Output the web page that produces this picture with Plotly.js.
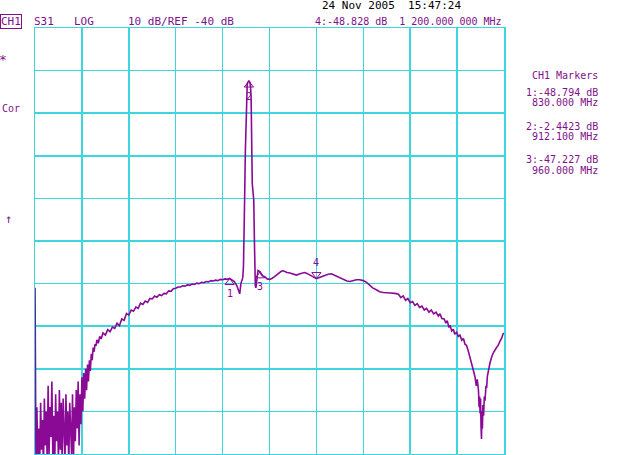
<!DOCTYPE html>
<html>
<head>
<meta charset="utf-8">
<script src="https://cdn.plot.ly/plotly-3.0.1.min.js"></script>
<style>html,body{margin:0;padding:0;background:#fff;}#chart{width:640px;height:455px;}</style>
</head>
<body>
<div id="chart"></div>
<script>
// ---- data (frequency in MHz, S31 magnitude in dB) ----
const segAFreq = [0.3,2,4,8,12,16,20,24,28,32,36,40,44,48,52,56,60,64,68,72,76,80,84,88,92,96,100,104,108,112,116,120,124,128,132,136,140,144,148,152,156,160,164,168,172,176,180,184,188,192,196,200,204,208,212,216,220,224,228,232,236,240,244,248,252,256,260];
const segADB = [-51,-62,-92,-79,-91,-84,-93,-78,-89,-82,
  -94,-77,-88,-80,-92,-74,-90,-79,-86,-73,
  -91,-81,-94,-76,-87,-80,-92,-75,-89,-78,
  -93,-77,-85,-91,-76,-88,-80,-93,-78,-86,
  -90,-76,-92,-79,-87,-75,-84,-73,-88,-76,
  -83,-72,-80,-71,-77,-70,-75,-69,-73,-68,
  -70.5,-66.5,-68,-65,-66,-64.2,-64.6];

const segBFreq = [264,270,276,282,290,300,310,320,330,340,350,360,370,380,390,400,410,420,430,440,450,460,470,480,490,500,510,520,530,540,550,560,570,580,590,600,610,620,630,640,650,660,670,680,690,700,710,720,730,740,750,760,770,780,790,800,810,820,830,840,850,860,866,873,878,882,886];
const segBDB = [-63.2,-64.0,-62.4,-63.0,-61.6,-62.1,-60.8,-61.3,-60.2,-60.5,
  -59.3,-59.9,-58.3,-58.6,-57.0,-57.4,-56.2,-56.5,-55.5,-55.8,
  -54.6,-54.9,-54.1,-54.4,-53.5,-53.6,-52.9,-53.2,-52.6,-52.8,
  -52.3,-52.4,-51.7,-51.8,-51.2,-51.1,-50.8,-50.8,-50.5,-50.6,
  -50.3,-50.4,-50.1,-50.2,-49.9,-50.0,-49.7,-49.8,-49.5,-49.6,
  -49.3,-49.4,-49.2,-49.3,-49.0,-49.1,-48.9,-49.0,-48.8,-49.1,
  -49.5,-50.4,-51.4,-52.4,-50.0,-49.3,-48.6];

const segCFreq = [889,891.5,894,897,900,902,905,908,912.1,916,919,921.5,923,924,926.5,930,933,935,937,939.5,942,944.5,947,951,955,960];
const segCDB = [-46,-40,-30,-19,-9.5,-5.5,-3.2,-2.7,-2.44,-2.7,
  -3.8,-6,-14,-23,-26.5,-28.7,-30.5,-38,-45,-50.5,
  -51,-49.9,-47.5,-46.9,-47.0,-47.2];

const segDFreq = [965,970,980,990,1000,1010,1020,1030,1040,1050,
  1058,1065,1075,1087,1100,1115,1130,1140,1150,1160,
  1172,1185,1195,1200,1210,1220,1229,1240,1250,1264,
  1275,1290,1300,1315,1330,1343,1355,1370,1385,1400,
  1414,1425,1440,1457,1470,1485,1499,1515,1535,1550,
  1560,1570,1580,1590,1600,1610,1620,1630,1640,1650,
  1660,1670,1680,1690,1700,1710,1720,1727,1735,1745,
  1752,1758,1765,1770,1777,1784,1790,1798,1805,1812,
  1820,1827,1834,1840,1848];
const segDDB = [-47.8,-48.2,-48.4,-48.9,-49.0,-48.8,-48.4,-47.9,-47.4,-47.1,
  -47.0,-47.2,-47.4,-47.5,-47.8,-48.0,-47.7,-47.5,-47.4,-47.6,
  -48.0,-48.4,-48.7,-48.83,-48.6,-48.4,-48.3,-48.0,-47.8,-47.7,
  -48.0,-48.5,-48.7,-49.1,-49.4,-49.5,-49.3,-49.1,-49.1,-49.3,
  -49.7,-50.3,-51.0,-51.5,-51.9,-52.1,-52.1,-52.2,-52.3,-52.5,
  -53.3,-52.9,-53.9,-53.5,-54.5,-54.2,-55.1,-54.7,-55.6,-55.3,
  -56.2,-55.8,-56.7,-56.2,-57.1,-56.7,-57.6,-57.1,-58.2,-58.3,
  -59.3,-58.7,-60.3,-59.8,-61.1,-60.7,-61.9,-61.4,-62.4,-62.1,
  -63.3,-62.9,-64.3,-64.5,-65.9];

const segEFreq = [1855,1862,1870,1876,1882,1886,1891,1894,1896,1898,1900,1902,1904,1906,1908,1910,1913,1916,1919,1923,1926,1929,1934,1940,1947,1954,1965,1976,1983,1990,1996,2000];
const segEDB = [-67.2,-68.7,-70.5,-71.8,-74.0,-72.5,-75.0,-79.0,-76.5,-80.5,
  -77.0,-83.5,-86.5,-80.0,-84.0,-78.5,-81.0,-76.5,-77.5,-74.0,
  -74.5,-71.8,-70.0,-68.7,-67.3,-66.3,-65.3,-64.4,-63.5,-62.8,
  -61.8,-61.6];

// markers
const markerNum = ['1','2','3','4'];
const markerFreq = [830, 912.1, 960, 1200];
const markerDB = [-48.794, -2.4423, -47.227, -48.828];
const activeMarker = 3; // index of marker 4

// axis settings
const startMHz = 0.3, stopMHz = 2000;
const scaleDB = 10, refDB = -40;

// header texts
const headerDate = '24 Nov 2005  15:47:24';
const headerItems = ['S31', 'LOG', '10 dB/REF -40 dB'];
const activeReadout = '4:-48.828 dB  1 200.000 000 MHz';
const panelLines = ['CH1 Markers', '1:-48.794 dB', '830.000 MHz', '2:-2.4423 dB', '912.100 MHz', '3:-47.227 dB', '960.000 MHz'];

// ---- build ----
const freq = [].concat(segAFreq, segBFreq, segCFreq, segDFreq, segEFreq);
const mag = [].concat(segADB, segBDB, segCDB, segDDB, segEDB);

const PURPLE = '#8a0a96';
const TEXTP = '#80108a';
const CYAN = '#3ed6de';
const FONT = 'DejaVu Sans Mono';

const L = 35, R = 136, T = 28, B = 1, W = 640, H = 455;
const PW = W - L - R, PH = H - T - B;
const pxX = p => (p - L) / PW;
const pxY = p => (H - B - p) / PH;
const nb = s => s.replace(/ /g, '\u00a0');

function ann(text, x, y, anchor, size, color, extra) {
  return Object.assign({
    text: nb(text), xref: 'paper', yref: 'paper', x: pxX(x), y: pxY(y),
    xanchor: anchor, yanchor: 'middle', showarrow: false,
    font: {family: FONT, size: size, color: color}
  }, extra || {});
}

const dOff = 0.95; // triangle centre offset so apex touches the trace
const passive = [0,1,2];
const traces = [
  {x: freq, y: mag, mode: 'lines', type: 'scatter',
   line: {color: PURPLE, width: 1.6}, hoverinfo: 'skip'},
  {x: passive.map(i => markerFreq[i]), y: passive.map(i => markerDB[i] - dOff),
   mode: 'markers', type: 'scatter',
   marker: {symbol: 'triangle-up-open', size: 8, color: PURPLE, line: {width: 1, color: PURPLE}}},
  {x: [markerFreq[activeMarker]], y: [markerDB[activeMarker] + dOff],
   mode: 'markers', type: 'scatter',
   marker: {symbol: 'triangle-down-open', size: 8, color: PURPLE, line: {width: 1, color: PURPLE}}},
  {x: [startMHz - 25], y: [refDB], mode: 'markers', type: 'scatter', cliponaxis: false,
   marker: {symbol: 'triangle-right-open', size: 6, color: '#000', line: {width: 1, color: '#000'}}}
];

const annotations = [];
annotations.push(ann('CH1', 11, 21.5, 'center', 11, TEXTP, {bordercolor: TEXTP, borderwidth: 1, borderpad: 0}));
const headerX = [32, 72, 126];
headerItems.forEach((t, i) => annotations.push(ann(t, headerX[i], 21.5, 'left', 11, TEXTP)));
annotations.push(ann(activeReadout, 313, 21.5, 'left', 10, TEXTP));
annotations.push(ann(headerDate, 320, 6, 'left', 11, '#000'));
annotations.push(ann('*', 3, 59, 'center', 13, TEXTP));
annotations.push(ann('Cor', 0, 108, 'left', 10, TEXTP));
annotations.push(ann('\u2191', 8, 219, 'center', 12, TEXTP));
const panelY = [75.7, 92.3, 102.7, 126, 136, 159.3, 170];
panelLines.forEach((t, i) => annotations.push(ann(t, 600, panelY[i], 'right', 10, TEXTP)));
markerNum.forEach((n, i) => annotations.push({
  text: n, xref: 'x', yref: 'y', x: markerFreq[i], y: markerDB[i],
  yshift: i === activeMarker ? 16 : -15, showarrow: false,
  xanchor: 'center', yanchor: 'middle',
  font: {family: FONT, size: 10, color: PURPLE}
}));

const axisCommon = {
  showgrid: true, gridcolor: CYAN, gridwidth: 1.5,
  showline: true, mirror: true, linecolor: CYAN, linewidth: 1.5,
  zeroline: false, showticklabels: false, ticks: '', fixedrange: true, automargin: false
};

const layout = {
  width: W, height: H,
  margin: {l: L, r: R, t: T, b: B, pad: 0},
  paper_bgcolor: '#fff', plot_bgcolor: '#fff',
  showlegend: false,
  font: {family: FONT},
  xaxis: Object.assign({}, axisCommon, {range: [0, stopMHz], tick0: 0, dtick: 200}),
  yaxis: Object.assign({}, axisCommon, {range: [refDB - 5 * scaleDB, refDB + 5 * scaleDB], tick0: 0, dtick: scaleDB}),
  shapes: [{type: 'line', xref: 'paper', x0: 0, x1: 1, yref: 'y', y0: refDB, y1: refDB,
            line: {color: '#000', width: 1}, layer: 'between'}],
  annotations: annotations
};

Plotly.newPlot('chart', traces, layout, {staticPlot: true, displayModeBar: false});
</script>
</body>
</html>
